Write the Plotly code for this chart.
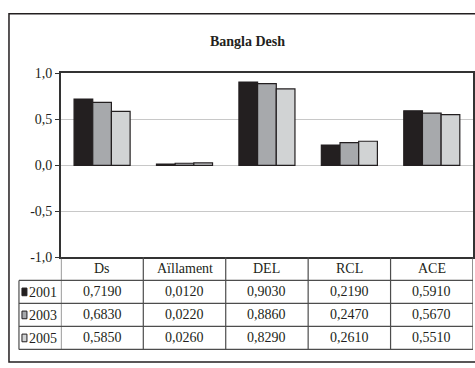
import plotly.graph_objects as go

categories = ["Ds", "Aïllament", "DEL", "RCL", "ACE"]
years = ["2001", "2003", "2005"]
values_2001 = [0.7190, 0.0120, 0.9030, 0.2190, 0.5910]
values_2003 = [0.6830, 0.0220, 0.8860, 0.2470, 0.5670]
values_2005 = [0.5850, 0.0260, 0.8290, 0.2610, 0.5510]
y_ticks = [-1.0, -0.5, 0.0, 0.5, 1.0]

series = [values_2001, values_2003, values_2005]
colours = ["#231f20", "#a7a9ac", "#d1d3d4"]

W, H = 475, 368
FONT = "Liberation Serif"
LINE = "#4d4d4d"


def px(x):
    return x / W


def py(y):
    return 1 - y / H


def comma(v, d):
    return f"{v:.{d}f}".replace(".", ",")


fig = go.Figure()
for name, vals, col in zip(years, series, colours):
    fig.add_trace(go.Bar(
        x=list(range(len(categories))), y=vals, name=name,
        marker=dict(color=col, line=dict(color="#231f20", width=1.2)),
        showlegend=False,
    ))

plot_top, plot_bottom = 69, 261
row_h = 24
n = len(categories)

shapes = []
annotations = []

# outer frame
shapes.append(dict(type="rect", xref="paper", yref="paper",
                   x0=px(9), x1=px(477), y0=py(370), y1=py(7),
                   line=dict(color="#231f20", width=1.5)))

# data table under the plot
table_bottom = plot_bottom + row_h * (len(years) + 1)
for k in range(len(years) + 1):
    yl = plot_bottom + row_h * (k + 1)
    shapes.append(dict(type="line", xref="paper", yref="paper",
                       x0=px(19), x1=px(474), y0=py(yl), y1=py(yl),
                       line=dict(color=LINE, width=1.2)))
shapes.append(dict(type="line", xref="paper", yref="paper",
                   x0=px(19), x1=px(19), y0=py(plot_bottom + row_h), y1=py(table_bottom),
                   line=dict(color=LINE, width=1.2)))
for i in range(n + 1):
    shapes.append(dict(type="line", xref="x", yref="paper",
                       x0=i - 0.5, x1=i - 0.5, y0=py(plot_bottom), y1=py(table_bottom),
                       line=dict(color=LINE, width=1.2)))

txt = dict(family=FONT, size=14, color="#231f20")
for i, cat in enumerate(categories):
    annotations.append(dict(x=i, y=py(plot_bottom + row_h / 2), xref="x", yref="paper",
                            text=cat, showarrow=False, xanchor="center", yanchor="middle",
                            font=txt))
    for r, vals in enumerate(series):
        annotations.append(dict(x=i, y=py(plot_bottom + row_h * (r + 1.5)), xref="x", yref="paper",
                                text=comma(vals[i], 4), showarrow=False,
                                xanchor="center", yanchor="middle", font=txt))

for r, (name, col) in enumerate(zip(years, colours)):
    yc = plot_bottom + row_h * (r + 1.5)
    shapes.append(dict(type="rect", xref="paper", yref="paper",
                       x0=px(22), x1=px(27), y0=py(yc + 4), y1=py(yc - 4),
                       fillcolor=col, line=dict(color="#231f20", width=1)))
    annotations.append(dict(x=px(27), y=py(yc + 1), xref="paper", yref="paper",
                            text=name, showarrow=False, xanchor="left", yanchor="middle",
                            font=txt))

annotations.append(dict(x=px(248), y=py(36), xref="paper", yref="paper",
                        text="<b>Bangla Desh</b>", showarrow=False,
                        xanchor="center", yanchor="middle",
                        font=dict(family=FONT, size=14, color="#231f20")))

fig.update_layout(
    width=W, height=H,
    margin=dict(l=0, r=0, t=0, b=0),
    paper_bgcolor="white", plot_bgcolor="white",
    barmode="group", bargap=0.32, bargroupgap=0,
    shapes=shapes, annotations=annotations,
    font=txt,
)
fig.update_xaxes(
    domain=[px(61), px(474)], range=[-0.5, n - 0.5],
    showticklabels=False, showgrid=False, zeroline=False,
    showline=True, mirror=True, linecolor="#333333", linewidth=1.5,
)
fig.update_yaxes(
    domain=[py(plot_bottom), py(plot_top)], range=[-1, 1],
    tickvals=y_ticks, ticktext=[comma(t, 1) for t in y_ticks],
    showgrid=True, gridcolor="#c8c8c8", gridwidth=1, zeroline=False,
    showline=True, mirror=True, linecolor="#333333", linewidth=1.5,
    ticks="outside", ticklen=4, tickcolor="#333333",
    tickfont=txt,
)

fig.write_html("out.html", config={"displayModeBar": False},
               post_script="document.body.style.margin='0';")
